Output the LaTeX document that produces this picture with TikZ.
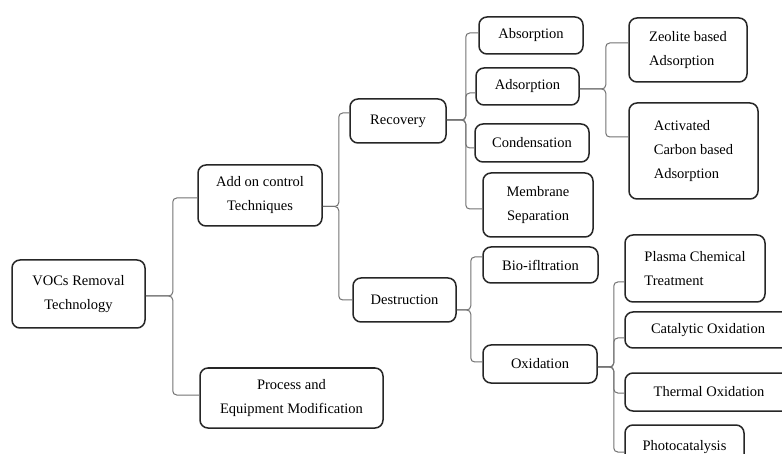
\documentclass[tikz,border=0pt]{standalone}
\usepackage{fontspec}
\setmainfont{Liberation Serif}
\usetikzlibrary{calc}
\tikzset{
  box/.style={draw=black!85, line width=1.5pt, rounded corners=8pt, fill=white,
    inner sep=2pt, align=center, font=\fontsize{14.5}{24}\selectfont},
  lbox/.style={box, align=left},
  connector/.style={draw=black!55, line width=1pt, rounded corners=4pt}
}
\newcommand\linkto[5]{\draw[connector] ($(#1.east)+(0,#2)$) -- ++(#3,0) |- ($(#4.west)+(0,#5)$);}
\begin{document}
\begin{tikzpicture}[x=1pt,y=-1pt]
\useasboundingbox (0,0) rectangle (782,454);
\clip (0,0) rectangle (782,454);
\fill[white] (0,0) rectangle (782,454);

\node[box, minimum width=133pt, minimum height=68pt] (voc) at (78.5,294) {VOCs Removal\\Technology};
\node[box, minimum width=124pt, minimum height=61pt] (addon) at (260,195.5) {Add on control\\Techniques};
\node[box, minimum width=183pt, minimum height=60pt] (process) at (291.5,398) {Process and\\Equipment Modification};
\node[box, minimum width=96pt, minimum height=44pt] (recovery) at (398,121) {Recovery};
\node[box, minimum width=103pt, minimum height=44pt] (destruction) at (404.5,300) {Destruction};
\node[box, minimum width=104pt, minimum height=37pt] (absorption) at (531,35.5) {Absorption};
\node[box, minimum width=103pt, minimum height=37pt] (adsorption) at (527.5,86.5) {Adsorption};
\node[box, minimum width=114pt, minimum height=38pt] (condensation) at (532,143) {Condensation};
\node[box, minimum width=110pt, minimum height=64pt] (membrane) at (538,205) {Membrane\\Separation};
\node[lbox, minimum width=118pt, minimum height=64pt] (zeolite) at (688,50) {Zeolite based\\Adsorption};
\node[lbox, minimum width=129pt, minimum height=96pt] (activated) at (693.5,151) {Activated\\Carbon based\\Adsorption};
\node[box, minimum width=115pt, minimum height=36pt] (bio) at (540.5,265) {Bio-ifltration};
\node[box, minimum width=114pt, minimum height=38pt] (oxidation) at (540,364) {Oxidation};
\node[lbox, minimum width=140pt, minimum height=67pt] (plasma) at (695,268.5) {Plasma Chemical\\Treatment};
\node[box, minimum width=166pt, minimum height=36pt] (catalytic) at (708,330) {Catalytic Oxidation};
\node[box, minimum width=168pt, minimum height=38pt] (thermal) at (709,392) {Thermal Oxidation};
\node[box, minimum width=119pt, minimum height=45pt] (photo) at (684.5,447.5) {Photocatalysis};

\linkto{voc}{2}{27}{addon}{2.5}
\linkto{voc}{2}{27}{process}{-3}
\linkto{addon}{11}{16}{recovery}{-8}
\linkto{addon}{11}{16}{destruction}{0}
\linkto{recovery}{-1}{19}{absorption}{-2.5}
\linkto{recovery}{-1}{19}{adsorption}{6.5}
\linkto{recovery}{-1}{19}{condensation}{5}
\linkto{recovery}{-1}{19}{membrane}{4}
\linkto{adsorption}{2.5}{26}{zeolite}{-7}
\linkto{adsorption}{2.5}{26}{activated}{-14}
\linkto{destruction}{10}{14}{bio}{-8}
\linkto{destruction}{10}{14}{oxidation}{-2}
\linkto{oxidation}{3}{16}{plasma}{13.5}
\linkto{oxidation}{3}{16}{catalytic}{8}
\linkto{oxidation}{3}{16}{thermal}{1}
\linkto{oxidation}{3}{16}{photo}{4.5}
\end{tikzpicture}
\end{document}
